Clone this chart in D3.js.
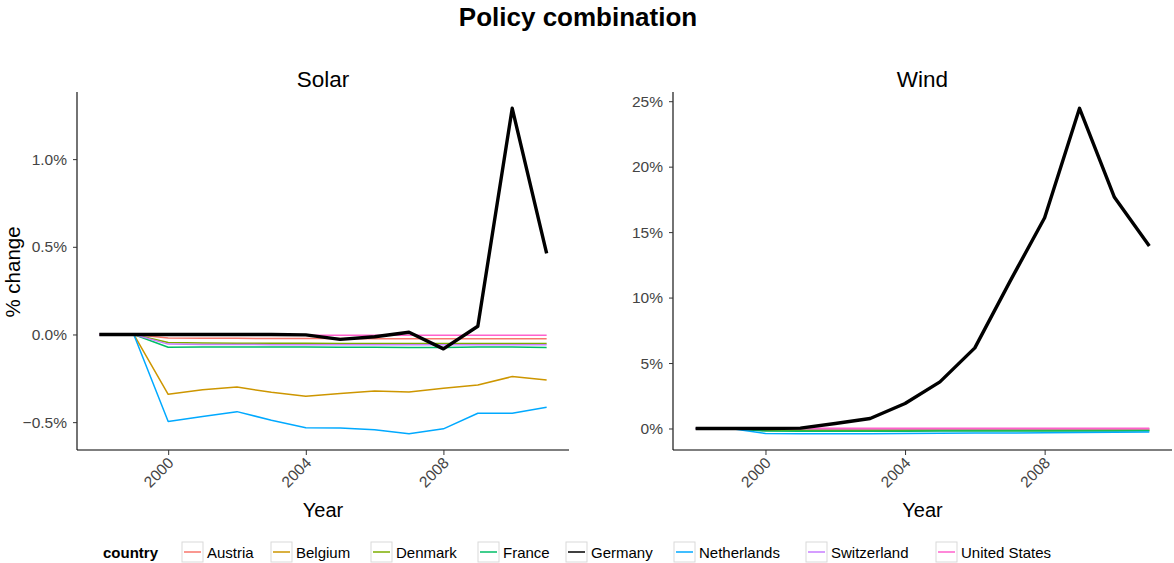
<!DOCTYPE html>
<html><head><meta charset="utf-8">
<script src="https://cdn.jsdelivr.net/npm/d3@7"></script>
<style>
body{margin:0;background:#fff;}
text{font-family:"Liberation Sans",Arial,Helvetica,sans-serif;}
</style></head>
<body><svg id="chart" width="1174" height="563"></svg>
<script>
const years = [1998,1999,2000,2001,2002,2003,2004,2005,2006,2007,2008,2009,2010,2011];
const countries = ["Austria","Belgium","Denmark","France","Germany","Netherlands","Switzerland","United States"];
const colors = ["#F8766D","#CD9600","#7CAE00","#00BE67","#000000","#00A9FF","#C77CFF","#FF61CC"];
const xTicks = [2000,2004,2008];
const solarTicks = [-0.5,0,0.5,1.0];
const windTicks = [0,5,10,15,20,25];

// Solar (% change)
const solarAustria     = [0,0,-0.020,-0.022,-0.022,-0.023,-0.023,-0.023,-0.024,-0.024,-0.024,-0.024,-0.024,-0.024];
const solarBelgium     = [0,0,-0.341,-0.315,-0.300,-0.330,-0.352,-0.337,-0.322,-0.328,-0.307,-0.288,-0.240,-0.260];
const solarDenmark     = [0,0,-0.046,-0.048,-0.050,-0.050,-0.050,-0.051,-0.051,-0.051,-0.051,-0.051,-0.051,-0.051];
const solarFrance      = [0,0,-0.073,-0.071,-0.071,-0.072,-0.072,-0.073,-0.073,-0.074,-0.074,-0.071,-0.072,-0.074];
const solarGermany     = [0,0,0,0,0,0,-0.002,-0.028,-0.013,0.013,-0.082,0.047,1.290,0.462];
const solarNetherlands = [0,0,-0.496,-0.468,-0.440,-0.489,-0.532,-0.534,-0.544,-0.566,-0.538,-0.449,-0.449,-0.415];
const solarSwitzerland = [0,0,-0.055,-0.057,-0.057,-0.058,-0.058,-0.058,-0.058,-0.058,-0.058,-0.058,-0.058,-0.058];
const solarUS          = [0,0,-0.004,-0.004,-0.004,-0.004,-0.004,-0.004,-0.004,-0.004,-0.004,-0.004,-0.004,-0.004];

// Wind (% change)
const windAustria     = [0,0,-0.05,-0.05,-0.05,-0.05,-0.05,-0.05,-0.05,-0.05,-0.05,-0.05,-0.05,-0.05];
const windBelgium     = [0,0,-0.16,-0.17,-0.17,-0.17,-0.17,-0.16,-0.16,-0.16,-0.16,-0.16,-0.15,-0.15];
const windDenmark     = [0,0,-0.12,-0.13,-0.13,-0.13,-0.13,-0.13,-0.13,-0.13,-0.13,-0.13,-0.13,-0.13];
const windFrance      = [0,0,-0.20,-0.21,-0.21,-0.21,-0.21,-0.20,-0.20,-0.20,-0.19,-0.19,-0.19,-0.18];
const windGermany     = [0,0,0,0.03,0.38,0.76,1.91,3.56,6.16,11.2,16.1,24.46,17.66,13.94];
const windNetherlands = [0,0,-0.38,-0.40,-0.40,-0.40,-0.38,-0.36,-0.35,-0.34,-0.32,-0.31,-0.28,-0.26];
const windSwitzerland = [0,0,-0.02,-0.02,-0.02,-0.02,-0.02,-0.02,-0.02,-0.02,-0.02,-0.02,-0.02,-0.02];
const windUS          = [0,0,0.01,0.01,0.01,0.01,0.01,0.01,0.01,0.01,0.01,0.01,0.01,0.01];

const solarSeries = [solarAustria,solarBelgium,solarDenmark,solarFrance,solarGermany,solarNetherlands,solarSwitzerland,solarUS];
const windSeries  = [windAustria,windBelgium,windDenmark,windFrance,windGermany,windNetherlands,windSwitzerland,windUS];

const svg = d3.select("#chart");
const font = '"Liberation Sans",Arial,Helvetica,sans-serif';

svg.append("text").attr("x",578).attr("y",26).attr("text-anchor","middle")
  .attr("font-size",26).attr("font-weight","bold").text("Policy combination");

function expand(ext){const d=ext[1]-ext[0];return [ext[0]-d*0.05,ext[1]+d*0.05];}

function panel(title, series, left, right, ticks, fmt){
  const top=92,bottom=450;
  const x = d3.scaleLinear().domain(expand(d3.extent(years))).range([left,right]);
  const allV = series.flat();
  const y = d3.scaleLinear().domain(expand(d3.extent(allV))).range([bottom,top]);
  const g = svg.append("g");
  const line = d3.line().x((d,i)=>x(years[i])).y(d=>y(d));
  // draw coloured lines first, Germany (black, thick) on top
  const order = countries.map((c,k)=>k).sort((a,b)=>(countries[a]==="Germany")-(countries[b]==="Germany"));
  order.forEach(k=>{
    g.append("path").attr("d",line(series[k])).attr("fill","none")
      .attr("stroke",colors[k]).attr("stroke-width",countries[k]==="Germany"?3.4:1.5)
      .attr("stroke-linejoin","round");
  });
  const ya = g.append("g").attr("transform",`translate(${left},0)`)
    .call(d3.axisLeft(y).tickValues(ticks).tickFormat(fmt).tickSize(4).tickPadding(6));
  ya.select(".domain").attr("d",`M0,${top}V${bottom}`).attr("stroke","#000").attr("stroke-width",1.1);
  ya.selectAll(".tick line").attr("stroke","#333");
  ya.selectAll(".tick text").attr("font-size",15.5).attr("fill","#444").attr("font-family",font);
  const xa = g.append("g").attr("transform",`translate(0,${bottom})`)
    .call(d3.axisBottom(x).tickValues(xTicks).tickFormat(d3.format("d")).tickSize(5));
  xa.select(".domain").attr("d",`M${left},0H${right}`).attr("stroke","#000").attr("stroke-width",1.1);
  xa.selectAll(".tick line").attr("stroke","#333");
  xa.selectAll(".tick text").attr("font-size",15.5).attr("fill","#444").attr("font-family",font)
    .attr("text-anchor","end").attr("dy",null).attr("y",null)
    .attr("transform","translate(6,14) rotate(-45)");
  svg.append("text").attr("x",(left+right)/2).attr("y",87).attr("text-anchor","middle")
    .attr("font-size",22.5).text(title);
  svg.append("text").attr("x",(left+right)/2).attr("y",517).attr("text-anchor","middle")
    .attr("font-size",20).text("Year");
}

panel("Solar", solarSeries, 77, 569, solarTicks, d=>d3.format(".1f")(d)+"%");
panel("Wind", windSeries, 673, 1172, windTicks, d=>d+"%");

svg.append("text").attr("transform","translate(20,272) rotate(-90)").attr("text-anchor","middle")
  .attr("font-size",20.5).text("% change");

// legend
const lg = svg.append("g");
lg.append("text").attr("x",103).attr("y",558).attr("font-size",15).attr("font-weight","bold").text("country");
const keyX = [182,271,371,478,566,674,806,936];
countries.forEach((c,k)=>{
  const kx = keyX[k];
  lg.append("rect").attr("x",kx).attr("y",542).attr("width",21).attr("height",20)
    .attr("fill","#fff").attr("stroke","#d9d9d9").attr("stroke-width",1);
  lg.append("line").attr("x1",kx+2).attr("x2",kx+19).attr("y1",552).attr("y2",552)
    .attr("stroke",colors[k]).attr("stroke-width",1.5);
  lg.append("text").attr("x",kx+25).attr("y",558).attr("font-size",15).text(c);
});
</script></body></html>
